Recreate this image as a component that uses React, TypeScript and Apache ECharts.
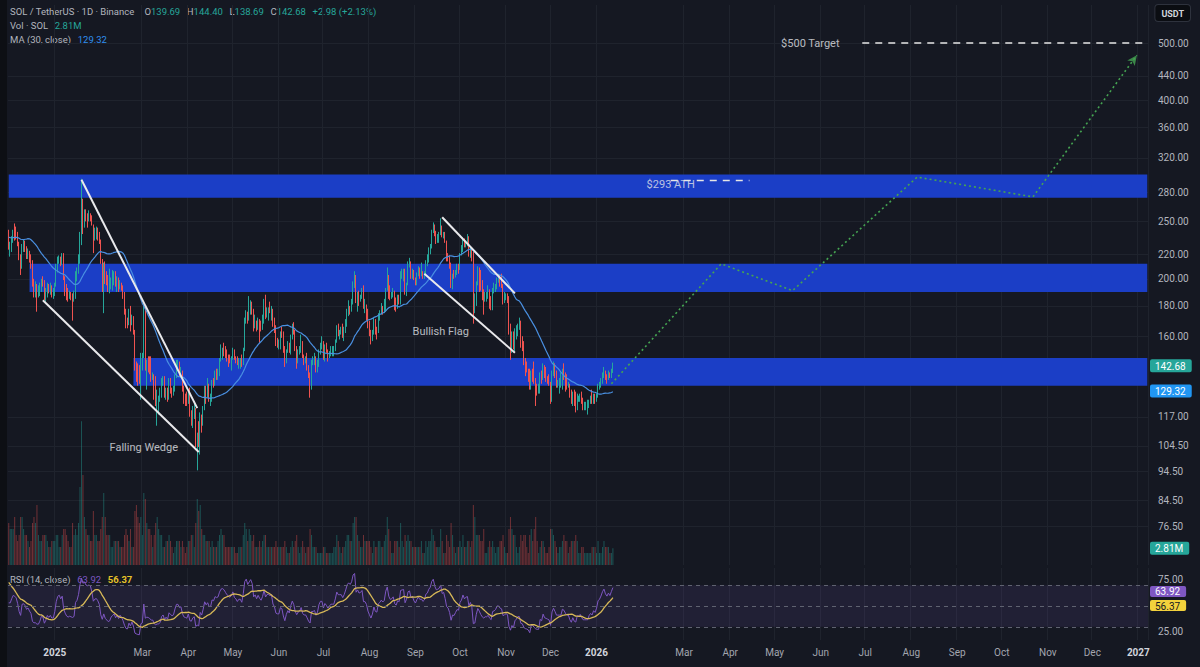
import React, { useEffect, useRef } from "react";
import * as echarts from "echarts";

// ---------- categories (daily, Dec 1 2024 -> Jan 7 2027) ----------
const AXIS_START = "2024-12-01";
const AXIS_DAYS = 768;
const categories: string[] = (() => {
  const out: string[] = [];
  const t0 = Date.parse(AXIS_START + "T00:00:00Z");
  for (let i = 0; i < AXIS_DAYS; i++) out.push(new Date(t0 + i * 86400000).toISOString().slice(0, 10));
  return out;
})();
const MONTHS = ["Jan", "Feb", "Mar", "Apr", "May", "Jun", "Jul", "Aug", "Sep", "Oct", "Nov", "Dec"];
const hiddenMonthLabels = ["02"];
const FIRST_LABEL_DATE = "2025-01-01";

// ---------- axis ticks ----------
const priceTicks = [76.5, 84.5, 94.5, 104.5, 117, 160, 180, 200, 220, 250, 280, 320, 360, 400, 440, 500];
const PRICE_MIN = 65.76;
const PRICE_MAX = 579.7;
const rsiTicks = [25, 75];
const RSI_MIN = 17.3;
const RSI_MAX = 86.5;
const VOL_MAX = 24.2;
// the RSI-MA tag is pushed below the RSI tag (as the price scale stacks them)
const RSI_TAG_GAP = 13.5;

// ---------- data (SOL/USDT daily) ----------
// closes of Nov 12-30 2024 (before the visible range, used for MA / RSI warm-up)
const warmupCloses = [213, 213, 210, 221, 238, 235, 236, 237, 238, 256, 256, 253, 245, 235, 228, 242, 240, 242, 238];

const closes = [
  226,226,233,239,238,236,229,217,210,227,228,225,219,221,216,212,196,193,193,190,190,193,198,197,186,189,194,191,193,189,189,
  195,207,215,217,213,217,201,194,189,187,188,187,186,187,203,206,215,237,260,253,258,254,253,255,254,247,234,238,239,236,231,
  213,203,211,201,197,193,194,199,201,203,196,199,193,197,193,187,177,169,168,174,168,172,163,142,139,137,136,148,
  149,178,143,145,144,141,137,137,127,124,125,125,127,134,136,127,130,126,134,131,129,130,137,143,143,139,140,131,126,125,124,
  128,118,117,120,121,105,106,105,118,114,121,131,127,130,125,125,134,133,139,138,139,146,151,152,151,149,147,146,145,147,
  151,147,146,144,146,146,144,152,170,175,171,176,181,178,166,169,165,170,167,165,170,180,173,177,177,176,177,168,165,157,156,
  156,162,161,152,145,151,155,152,160,166,162,153,148,151,152,156,148,146,146,142,137,134,145,145,146,140,143,151,155,155,
  148,153,151,148,150,152,152,152,157,165,163,163,163,161,164,169,176,179,178,182,196,200,185,189,186,187,190,179,179,176,168,
  163,158,162,170,164,163,173,175,178,176,178,192,200,190,186,187,190,182,180,186,185,204,205,206,190,196,211,213,204,206,200,
  197,203,207,204,205,202,204,213,215,222,226,240,246,239,235,236,238,245,236,238,231,220,218,211,196,203,202,206,210,209,
  220,224,233,228,231,232,220,225,218,182,183,197,208,202,194,188,185,187,187,189,183,180,191,192,194,199,199,196,195,185,186,
  187,186,165,155,160,154,162,164,167,167,154,153,145,142,141,139,132,139,138,134,131,130,130,138,136,142,137,136,135,134,
  126,138,142,138,133,133,133,133,138,137,134,132,132,127,124,127,123,122,126,126,127,124,122,122,122,122,124,125,124,126,125,
  127,131,132,134,137,139,137,136,138,137,139.69,142.68,
];
const highs = [
  242,231,236,242,248,245,240,231,220,229,233,232,227,225,223,220,215,200,198,196,195,197,200,202,199,193,197,196,197,195,193,
  197,212,218,219,218,221,221,202,196,193,191,190,189,191,206,209,220,240,295,273,262,262,258,261,258,256,247,244,245,244,240,
  233,216,213,214,206,203,208,201,207,206,206,202,201,199,197,195,190,178,172,178,180,174,173,164,145,144,143,150,
  150,180,179,146,148,148,148,139,138,137,130,127,131,136,137,137,131,131,136,136,131,132,138,146,146,145,142,140,132,128,129,
  129,131,120,122,123,121,110,115,119,118,122,132,132,136,133,128,135,136,140,141,141,147,155,153,156,154,152,149,149,148,
  153,152,148,148,147,147,149,153,172,177,176,187,184,183,178,174,170,172,171,170,174,185,188,179,179,183,180,178,172,167,159,
  158,163,166,163,154,152,157,156,161,168,169,164,154,152,154,161,157,149,148,150,143,139,146,148,150,148,146,152,156,160,
  157,155,156,152,151,154,154,154,158,167,168,164,166,168,166,171,178,184,180,185,198,206,203,190,191,188,193,195,185,181,178,
  170,164,164,172,171,166,175,177,182,180,185,193,209,203,195,190,193,191,186,188,188,206,208,208,208,197,214,217,214,208,207,
  201,205,210,209,213,206,206,215,220,226,229,242,249,247,241,238,240,253,246,240,240,232,221,219,213,204,207,207,212,212,
  221,228,235,234,232,238,236,227,226,222,189,198,210,209,207,199,192,190,190,195,192,187,193,197,196,201,204,203,204,196,190,
  189,189,187,168,163,163,165,167,168,172,170,160,157,147,145,141,141,140,141,145,136,133,133,139,140,144,143,142,137,138,
  134,140,145,144,140,135,136,139,141,144,139,138,134,133,130,129,130,129,128,127,128,129,126,124,124,125,125,127,130,128,128,
  128,133,134,136,139,142,140,138,140,139,141,144.4,
];
const lows = [
  224,218,222,230,232,233,227,215,203,208,222,222,216,216,213,208,194,186,186,176,186,187,190,194,184,183,186,189,188,186,185,
  187,194,205,212,210,211,199,187,184,183,185,184,170,183,185,198,204,212,228,238,244,250,244,250,250,246,221,232,233,232,229,
  212,190,175,196,195,190,189,192,191,195,194,190,190,192,191,185,174,165,165,167,163,167,161,140,134,132,133,125,
  140,147,140,130,139,138,134,135,125,122,113,118,124,126,132,126,125,124,125,128,126,127,129,136,140,137,136,129,123,122,122,
  123,117,113,112,116,104,95,104,101,110,113,120,123,126,124,122,124,131,132,135,135,137,145,146,148,147,145,142,144,140,
  146,146,144,143,141,141,142,143,151,168,168,170,174,174,163,165,163,164,156,163,164,168,171,172,170,175,170,166,162,154,153,
  152,152,159,150,142,144,150,150,149,158,161,151,141,144,149,150,147,143,144,140,136,126,130,143,143,139,139,142,149,152,
  146,145,150,145,147,148,148,148,151,156,160,158,161,159,157,162,166,173,174,176,181,193,182,176,180,183,185,178,175,170,165,
  160,155,157,161,161,158,162,170,174,174,175,176,191,185,184,185,186,177,176,178,181,181,200,198,188,187,195,209,200,200,199,
  195,195,202,200,202,200,200,203,210,213,220,225,239,236,229,230,230,237,235,234,230,214,214,208,193,192,200,201,203,204,
  207,219,222,226,226,227,218,217,214,168,175,180,195,190,191,184,174,183,183,185,178,177,177,189,190,192,197,194,193,181,182,
  184,182,161,146,150,152,151,158,160,164,153,151,143,137,139,134,130,130,134,133,122,127,128,128,133,135,136,134,133,132,
  123,124,137,136,131,131,128,131,130,135,129,130,131,126,123,122,122,119,120,124,124,123,120,120,120,118,121,123,123,123,123,
  124,126,130,131,133,136,135,133,135,136,136,138.69,
];
// volume, millions of SOL
const volumes = [
  7,6,6,6,8,5,4,5,8,8,6,5,5,4,3,4,7,8,7,10,5,4,4,5,5,5,4,3,3,4,4,
  4,5,5,3,3,5,6,6,5,4,3,3,7,5,6,5,7,13,24,15,8,6,5,5,4,4,9,5,5,4,4,
  6,8,12,8,5,5,5,3,3,4,4,4,4,3,3,3,5,6,5,4,6,3,3,9,10,8,7,8,
  5,12,11,7,6,6,5,3,5,7,8,6,5,5,3,3,4,4,5,4,3,2,3,4,4,4,3,4,3,2,3,
  4,4,5,5,3,7,11,9,10,6,5,5,4,4,4,3,4,3,3,3,4,5,6,5,5,3,3,3,3,3,
  3,3,2,2,3,3,3,5,7,6,4,6,5,4,5,3,3,3,4,3,4,5,5,3,3,3,3,3,3,4,3,
  3,3,3,3,4,3,2,2,3,4,3,4,5,3,2,3,4,3,2,3,3,6,5,3,3,3,2,2,2,2,
  3,3,2,2,2,2,2,3,3,5,4,3,2,3,3,4,5,5,4,4,7,8,8,5,4,3,3,5,4,4,4,
  4,3,2,4,3,3,4,4,3,3,4,5,8,6,4,2,2,4,4,4,3,7,4,3,5,4,5,4,4,3,3,
  3,3,3,3,4,2,2,4,3,4,4,6,5,4,3,3,3,6,4,2,2,5,4,3,7,5,3,2,3,3,
  4,3,5,3,3,4,4,3,4,10,8,5,5,5,4,4,6,2,2,3,4,3,4,3,2,3,3,4,4,5,3,
  2,2,6,8,6,5,5,3,2,3,5,4,5,5,3,2,5,6,4,6,8,4,2,3,4,4,3,2,2,3,
  6,6,5,4,3,2,3,3,4,5,4,4,2,3,4,4,4,5,4,2,2,3,3,2,2,2,2,2,3,3,3,
  2,4,2,2,3,4,3,3,3,2,2,2.81,
];

// last-bar readouts shown in the legend / axis tags
const lastOpen = 139.69;
const lastHigh = 144.4;
const lastLow = 138.69;
const lastClose = 142.68;
const lastChange = "+2.98 (+2.13%)";
const maLast = 129.32;
const volLast = 2.81;
const rsiLast = 63.92;
const rsiMaLast = 56.37;

// ---------- drawings ----------
const zones = [
  { from: "2024-12-01", low: 274, high: 300 },
  { from: "2024-12-15", low: 190, high: 212 },
  { from: "2025-02-23", low: 132, high: 147 },
];
const wedgeUpper: [string, number][] = [["2025-01-19", 294], ["2025-04-07", 121]];
const wedgeLower: [string, number][] = [["2024-12-24", 184], ["2025-04-08", 102]];
const flagUpper: [string, number][] = [["2025-09-19", 254], ["2025-11-07", 189]];
const flagLower: [string, number][] = [["2025-09-07", 204], ["2025-11-07", 150]];
const projection: [string, number][] = [
  ["2026-01-11", 133], ["2026-03-26", 212], ["2026-05-13", 191],
  ["2026-08-05", 297], ["2026-10-22", 275], ["2026-12-31", 477],
];
const targetLine: [string, number][] = [["2026-06-29", 500], ["2027-01-07", 500]];
const athLine: [string, number][] = [["2026-02-20", 293], ["2026-04-14", 293]];
const notes = [
  { text: "Falling Wedge", date: "2025-03-02", price: 104 },
  { text: "Bullish Flag", date: "2025-09-18", price: 163 },
  { text: "$293 ATH", date: "2026-02-20", price: 288 },
  { text: "$500 Target", date: "2026-05-25", price: 500 },
];

// ---------- option ----------
const FONT = "Roboto, 'Noto Sans', sans-serif";
const UP = "#26a69a";
const DOWN = "#ef5350";
const LN = Math.log;
const xi = (d: string) => categories.indexOf(d);
const isMonthStart = (i: number) => {
  const d = categories[i];
  return !!d && d >= FIRST_LABEL_DATE && d.slice(8) === "01" && !hiddenMonthLabels.includes(d.slice(5, 7));
};
const near = (a: number, b: number) => Math.abs(a - b) < 1e-9;

function buildOption(): any {
  const W = warmupCloses.length;
  const opens = closes.map((c, k) => (k === 0 ? warmupCloses[W - 1] : closes[k - 1]));
  const candle = closes.map((c, k) => [LN(opens[k]), LN(c), LN(lows[k]), LN(highs[k])]);
  const all = [...warmupCloses, ...closes];
  const ma = closes.map((_, k) => {
    const j = W + k;
    const s = Math.max(0, j - 29);
    let sum = 0;
    for (let t = s; t <= j; t++) sum += all[t];
    return LN(sum / (j - s + 1));
  });
  const rsiAll: number[] = [NaN];
  let ag = 0, al = 0;
  for (let t = 1; t < all.length; t++) {
    const d = all[t] - all[t - 1];
    const p = Math.min(t, 14);
    ag = (ag * (p - 1) + Math.max(d, 0)) / p;
    al = (al * (p - 1) + Math.max(-d, 0)) / p;
    rsiAll.push(al === 0 ? 100 : 100 - 100 / (1 + ag / al));
  }
  const rsiMaAll = rsiAll.map((_, t) => {
    if (t < 1) return NaN;
    const s = Math.max(1, t - 13);
    let sum = 0;
    for (let u = s; u <= t; u++) sum += rsiAll[u];
    return sum / (t - s + 1);
  });
  const rsi = rsiAll.slice(W);
  const rsiMa = rsiMaAll.slice(W);
  const vol = volumes.map((v, k) => ({
    value: v,
    itemStyle: { color: closes[k] >= opens[k] ? "rgba(38,166,154,0.42)" : "rgba(239,83,80,0.42)" },
  }));
  const seg = (pts: [string, number][]) => pts.map(([d, p]) => [xi(d), LN(p)]);
  const lastCat = categories[categories.length - 1];
  const rsiMaTagPos = Math.min(rsiMaLast, rsiLast - RSI_TAG_GAP);

  const xBase = (gridIndex: number) => ({
    type: "category",
    gridIndex,
    data: categories,
    boundaryGap: true,
    axisLine: { show: false },
    axisTick: { show: false },
    axisLabel: { show: false },
    splitLine: { show: gridIndex !== 1, interval: (i: number) => isMonthStart(i), lineStyle: { color: "#1f232d", width: 1 } },
  });

  const tagRich = {
    n: { color: "#b2b5be", fontSize: 10, fontFamily: FONT, padding: [0, 0, 0, 8] },
    g: { color: "#ffffff", backgroundColor: UP, fontSize: 10, fontFamily: FONT, padding: [2, 6, 1, 5], borderRadius: 2 },
    b: { color: "#ffffff", backgroundColor: "#2196f3", fontSize: 10, fontFamily: FONT, padding: [2, 6, 1, 5], borderRadius: 2 },
    p: { color: "#ffffff", backgroundColor: "#7e57c2", fontSize: 10, fontFamily: FONT, padding: [1, 6, 0, 5], borderRadius: 2 },
    y: { color: "#131722", backgroundColor: "#f2d13c", fontSize: 10, fontFamily: FONT, padding: [1, 6, 0, 5], borderRadius: 2 },
  };

  const lineSeries = (name: string, pts: [string, number][], style: any, z = 6) => ({
    name,
    type: "line",
    xAxisIndex: 0,
    yAxisIndex: 0,
    data: seg(pts),
    symbol: "none",
    lineStyle: style,
    z,
    silent: true,
  });

  return {
    animation: false,
    backgroundColor: "#151822",
    textStyle: { fontFamily: FONT },
    grid: [
      { left: 8, right: 52, top: 5, height: 560 },
      { left: 8, right: 52, top: 420, height: 145 },
      { left: 8, right: 52, top: 568, height: 72 },
    ],
    xAxis: [
      xBase(0),
      xBase(1),
      {
        ...xBase(2),
        axisLabel: {
          show: true,
          interval: (i: number) => isMonthStart(i),
          margin: 7,
          formatter: (v: string) => {
            const m = v.slice(5, 7);
            return m === "01" ? `{y|${v.slice(0, 4)}}` : `{m|${MONTHS[+m - 1]}}`;
          },
          rich: {
            y: { color: "#d1d4dc", fontWeight: "bold", fontSize: 10, fontFamily: FONT },
            m: { color: "#a3a6af", fontSize: 10, fontFamily: FONT },
          },
        },
      },
    ],
    yAxis: [
      {
        type: "value",
        gridIndex: 0,
        position: "right",
        min: LN(PRICE_MIN),
        max: LN(PRICE_MAX),
        axisLine: { show: false },
        axisTick: { show: false, customValues: priceTicks.map(LN) },
        splitLine: { show: true, lineStyle: { color: "#1f232d" } },
        axisLabel: {
          margin: 2,
          hideOverlap: false,
          showMinLabel: true,
          showMaxLabel: true,
          customValues: [...priceTicks.map(LN), LN(lastClose), LN(maLast)],
          formatter: (v: number) => {
            if (near(v, LN(lastClose))) return `{g|${lastClose.toFixed(2)}}`;
            if (near(v, LN(maLast))) return `{b|${maLast.toFixed(2)}}`;
            return `{n|${Math.exp(v).toFixed(2)}}`;
          },
          rich: tagRich,
        },
      },
      {
        type: "value",
        gridIndex: 1,
        position: "right",
        min: 0,
        max: VOL_MAX,
        axisLine: { show: false },
        axisTick: { show: false, customValues: [volLast] },
        splitLine: { show: false },
        axisLabel: {
          margin: 2,
          hideOverlap: false,
          showMinLabel: true,
          showMaxLabel: true,
          customValues: [volLast],
          formatter: (v: number) => `{g|${v.toFixed(2)}M}`,
          rich: tagRich,
        },
      },
      {
        type: "value",
        gridIndex: 2,
        position: "right",
        min: RSI_MIN,
        max: RSI_MAX,
        axisLine: { show: false },
        axisTick: { show: false, customValues: rsiTicks },
        splitLine: { show: false },
        axisLabel: {
          margin: 2,
          hideOverlap: false,
          showMinLabel: true,
          showMaxLabel: true,
          customValues: [rsiTicks[0], rsiMaTagPos, rsiLast, rsiTicks[1]],
          formatter: (v: number) => {
            if (near(v, rsiLast)) return `{p|${rsiLast.toFixed(2)}}`;
            if (near(v, rsiMaTagPos)) return `{y|${rsiMaLast.toFixed(2)}}`;
            return `{n|${v.toFixed(2)}}`;
          },
          rich: tagRich,
        },
      },
    ],
    series: [
      {
        name: "zones",
        type: "line",
        xAxisIndex: 0,
        yAxisIndex: 0,
        data: [],
        silent: true,
        markArea: {
          silent: true,
          itemStyle: { color: "#1b3ec6" },
          data: zones.map((z) => [
            { xAxis: xi(z.from), yAxis: LN(z.high) },
            { xAxis: xi(lastCat), yAxis: LN(z.low) },
          ]),
        },
        z: 1,
      },
      {
        name: "Volume",
        type: "bar",
        xAxisIndex: 1,
        yAxisIndex: 1,
        data: vol,
        barWidth: "60%",
        silent: true,
        z: 2,
      },
      {
        name: "SOL",
        type: "candlestick",
        xAxisIndex: 0,
        yAxisIndex: 0,
        data: candle,
        barWidth: "60%",
        itemStyle: { color: UP, color0: DOWN, borderColor: UP, borderColor0: DOWN, borderWidth: 1 },
        silent: true,
        z: 3,
      },
      {
        name: "MA 30",
        type: "line",
        xAxisIndex: 0,
        yAxisIndex: 0,
        data: ma,
        symbol: "none",
        lineStyle: { color: "#4a90e2", width: 1.2 },
        silent: true,
        z: 4,
      },
      lineSeries("wedge-upper", wedgeUpper, { color: "#e9e9ec", width: 2 }),
      lineSeries("wedge-lower", wedgeLower, { color: "#e9e9ec", width: 2 }),
      lineSeries("flag-upper", flagUpper, { color: "#e9e9ec", width: 2 }),
      lineSeries("flag-lower", flagLower, { color: "#e9e9ec", width: 2 }),
      lineSeries("projection", projection, { color: "#45a452", width: 1.6, type: [2, 3] }),
      lineSeries("target", targetLine, { color: "#e6e6e6", width: 1.6, type: [7, 6] }),
      lineSeries("ath", athLine, { color: "#e6e6e6", width: 1.6, type: [7, 6] }),
      {
        name: "arrow",
        type: "scatter",
        xAxisIndex: 0,
        yAxisIndex: 0,
        data: [seg(projection.slice(-1))[0]],
        symbol: "arrow",
        symbolSize: [7, 10],
        symbolRotate: -36,
        itemStyle: { color: "#45a452" },
        silent: true,
        z: 7,
      },
      {
        name: "notes",
        type: "scatter",
        xAxisIndex: 0,
        yAxisIndex: 0,
        data: notes.map((n) => ({ name: n.text, value: [xi(n.date), LN(n.price)] })),
        symbolSize: 1,
        itemStyle: { color: "rgba(0,0,0,0)" },
        label: { show: true, position: "inside", formatter: "{b}", color: "#e3e5ea", fontSize: 11, fontFamily: FONT },
        silent: true,
        z: 8,
      },
      {
        name: "RSI",
        type: "line",
        xAxisIndex: 2,
        yAxisIndex: 2,
        data: rsi,
        symbol: "none",
        lineStyle: { color: "#7e57c2", width: 1 },
        silent: true,
        z: 3,
        markArea: {
          silent: true,
          itemStyle: { color: "rgba(126,87,194,0.12)" },
          data: [[{ yAxis: 30 }, { yAxis: 70 }]],
        },
        markLine: {
          silent: true,
          symbol: "none",
          label: { show: false },
          lineStyle: { color: "#5f6270", type: [4, 4], width: 1 },
          data: [{ yAxis: 70 }, { yAxis: 50 }, { yAxis: 30 }],
        },
      },
      {
        name: "RSI MA",
        type: "line",
        xAxisIndex: 2,
        yAxisIndex: 2,
        data: rsiMa,
        symbol: "none",
        lineStyle: { color: "#d8b958", width: 1.3 },
        silent: true,
        z: 4,
      },
    ],
    graphic: [
      { type: "rect", left: 0, top: 0, shape: { width: 7, height: 667 }, style: { fill: "#0d0f14" }, silent: true },
      {
        type: "text",
        left: 10,
        top: 5,
        silent: true,
        style: {
          text: `{l|SOL / TetherUS · 1D · Binance}   {l|O}{g|${lastOpen.toFixed(2)}}  {l|H}{g|${lastHigh.toFixed(2)}}  {l|L}{g|${lastLow.toFixed(2)}}  {l|C}{g|${lastClose.toFixed(2)}}  {g|${lastChange}}`,
          rich: {
            l: { fill: "#b2b5be", fontSize: 9.5, fontFamily: FONT },
            g: { fill: UP, fontSize: 9.5, fontFamily: FONT },
          },
        },
      },
      {
        type: "text",
        left: 10,
        top: 19,
        silent: true,
        style: {
          text: `{l|Vol · SOL}  {g|${volLast.toFixed(2)}M}`,
          rich: {
            l: { fill: "#b2b5be", fontSize: 9.5, fontFamily: FONT },
            g: { fill: UP, fontSize: 9.5, fontFamily: FONT },
          },
        },
      },
      {
        type: "text",
        left: 10,
        top: 33,
        silent: true,
        style: {
          text: `{l|MA (30, close)}  {b|${maLast.toFixed(2)}}`,
          rich: {
            l: { fill: "#b2b5be", fontSize: 9.5, fontFamily: FONT },
            b: { fill: "#2f8ff0", fontSize: 9.5, fontFamily: FONT },
          },
        },
      },
      {
        type: "text",
        left: 10,
        top: 573,
        silent: true,
        style: {
          text: `{l|RSI (14, close)}  {p|${rsiLast.toFixed(2)}}  {y|${rsiMaLast.toFixed(2)}}`,
          rich: {
            l: { fill: "#b2b5be", fontSize: 9.5, fontFamily: FONT },
            p: { fill: "#7e57c2", fontSize: 9.5, fontFamily: FONT },
            y: { fill: "#e6c229", fontSize: 9.5, fontFamily: FONT, fontWeight: "bold" },
          },
        },
      },
      {
        type: "text",
        right: 9,
        top: 4,
        silent: true,
        style: {
          text: "USDT",
          fill: "#d1d4dc",
          fontSize: 9,
          fontWeight: "bold",
          fontFamily: FONT,
          backgroundColor: "#0b0d12",
          borderColor: "#2e323d",
          borderWidth: 1,
          borderRadius: 3,
          padding: [4, 6, 3, 6],
        },
      },
    ],
  };
}

export default function App() {
  const ref = useRef<HTMLDivElement>(null);
  useEffect(() => {
    if (!ref.current) return;
    const chart = echarts.init(ref.current, undefined, { renderer: "svg" });
    chart.setOption(buildOption());
    return () => chart.dispose();
  }, []);
  return (
    <div
      ref={ref}
      style={{ position: "fixed", left: 0, top: 0, width: 1200, height: 667, background: "#151822" }}
    />
  );
}
